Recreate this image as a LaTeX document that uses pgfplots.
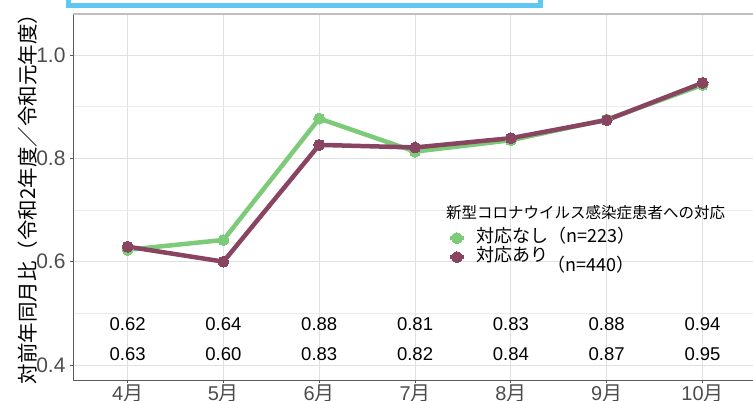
\documentclass[border=0pt]{standalone}
\usepackage{fontspec}
\setmainfont{Liberation Sans}
\newfontfamily\jp{Noto Sans CJK JP}
\usepackage{pgfplots}
\pgfplotsset{compat=1.18}
\definecolor{cgreen}{RGB}{125,202,120}
\definecolor{cmaroon}{RGB}{137,68,98}
\definecolor{cblue}{RGB}{94,200,240}
\definecolor{tickgray}{RGB}{77,77,77}
\definecolor{axgray}{RGB}{90,90,90}
\begin{document}
\begin{tikzpicture}[x=1pt,y=1pt]
\path[use as bounding box] (0,0) rectangle (753,401);
\draw[cblue, line width=5pt] (68.5,395.5) rectangle (540.5,430);
\begin{axis}[
  at={(73pt,21pt)}, anchor=south west, scale only axis,
  width=687pt, height=366pt,
  xmin=0.43, xmax=7.6, ymin=0.371, ymax=1.0793,
  axis x line*=bottom, axis y line*=left,
  axis line style={-, draw=axgray, line width=0.9pt},
  xtick={1,2,3,4,5,6,7},
  xticklabels={4{\jp 月},5{\jp 月},6{\jp 月},7{\jp 月},8{\jp 月},9{\jp 月},10{\jp 月}},
  ytick={0.4,0.6,0.8,1.0},
  yticklabels={0.4,0.6,0.8,1.0},
  minor ytick={0.5,0.7,0.9},
  minor tick length=0pt,
  major tick length=3pt, tick align=outside,
  tick style={draw=axgray, line width=0.8pt},
  xticklabel style={font=\fontsize{20}{20}\selectfont, text=tickgray, anchor=north, inner sep=0pt, yshift=-2pt},
  yticklabel style={font=\fontsize{21}{21}\selectfont, text=tickgray, xshift=-1pt},
  xmajorgrids, ymajorgrids, yminorgrids,
  major grid style={draw=black!12, line width=0.9pt},
  minor grid style={draw=black!8, line width=0.9pt},
  legend style={draw=none, fill=none, at={(axis cs:4.34,0.664)}, anchor=north west,
    inner sep=0pt, outer sep=0pt,
    font=\jp\fontsize{18}{18}\selectfont, row sep=0pt,
    nodes={inner ysep=0pt, inner xsep=0pt, text height=14pt, text depth=5pt},
    /tikz/every odd column/.append style={column sep=10pt}},
  legend cell align=left,
  legend image code/.code={\draw[mark repeat=2,mark phase=2,#1] plot coordinates {(0pt,0pt)(7pt,0pt)(14pt,0pt)};},
  clip=false,
]
\addplot[cgreen, line width=4.5pt, mark=*, mark size=5.5pt, mark options={line width=0pt}] coordinates {
 (1,0.623) (2,0.642) (3,0.877) (4,0.813) (5,0.835) (6,0.875) (7,0.942)};
\addlegendentry{対応なし（n=223）}
\addplot[cmaroon, line width=4.5pt, mark=*, mark size=5.5pt, mark options={line width=0pt}] coordinates {
 (1,0.629) (2,0.600) (3,0.826) (4,0.821) (5,0.839) (6,0.874) (7,0.946)};
\addlegendentry{対応あり}
\draw[black!25, line width=1.5pt] (rel axis cs:0,1) -- (rel axis cs:1,1);
\node[font=\fontsize{18.5}{18.5}\selectfont] at (axis cs:1,0.479) {0.62};
\node[font=\fontsize{18.5}{18.5}\selectfont] at (axis cs:2,0.479) {0.64};
\node[font=\fontsize{18.5}{18.5}\selectfont] at (axis cs:3,0.479) {0.88};
\node[font=\fontsize{18.5}{18.5}\selectfont] at (axis cs:4,0.479) {0.81};
\node[font=\fontsize{18.5}{18.5}\selectfont] at (axis cs:5,0.479) {0.83};
\node[font=\fontsize{18.5}{18.5}\selectfont] at (axis cs:6,0.479) {0.88};
\node[font=\fontsize{18.5}{18.5}\selectfont] at (axis cs:7,0.479) {0.94};
\node[font=\fontsize{18.5}{18.5}\selectfont] at (axis cs:1,0.421) {0.63};
\node[font=\fontsize{18.5}{18.5}\selectfont] at (axis cs:2,0.421) {0.60};
\node[font=\fontsize{18.5}{18.5}\selectfont] at (axis cs:3,0.421) {0.83};
\node[font=\fontsize{18.5}{18.5}\selectfont] at (axis cs:4,0.421) {0.82};
\node[font=\fontsize{18.5}{18.5}\selectfont] at (axis cs:5,0.421) {0.84};
\node[font=\fontsize{18.5}{18.5}\selectfont] at (axis cs:6,0.421) {0.87};
\node[font=\fontsize{18.5}{18.5}\selectfont] at (axis cs:7,0.421) {0.95};
\end{axis}
\node[anchor=west, inner sep=0pt, font=\jp\fontsize{15.5}{15.5}\selectfont] at (446,188) {新型コロナウイルス感染症患者への対応};
\node[anchor=west, inner sep=0pt, font=\jp\fontsize{18}{18}\selectfont] at (547,136) {（n=440）};
\node[rotate=90, font=\jp\fontsize{20.5}{20.5}\selectfont] at (28,207) {対前年同月比（令和2年度／令和元年度）};
\end{tikzpicture}
\end{document}
